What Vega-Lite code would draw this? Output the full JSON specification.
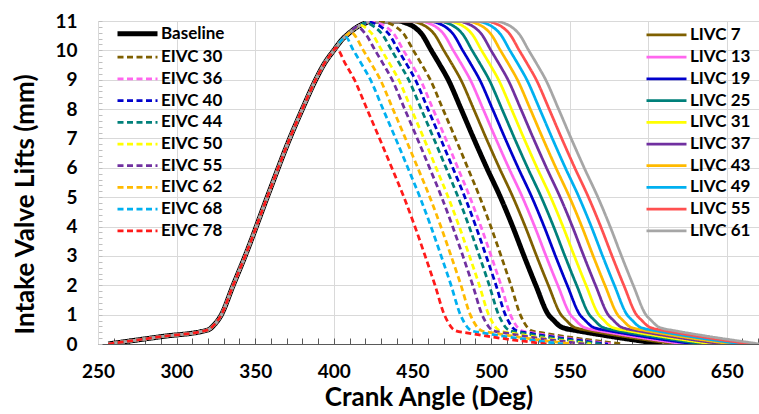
{
"$schema": "https://vega.github.io/schema/vega-lite/v6.json",
"width": 661, "height": 323,
"autosize": {"type": "none"},
"padding": {"left": 98, "top": 21, "right": 0, "bottom": 70},
"config": {"view": {"stroke": null}, "font": "Lato"},
"data": {"values": [
{"s":"Baseline","x":256.5,"y":0},{"s":"Baseline","x":290,"y":0.25},{"s":"Baseline","x":320,"y":0.48},{"s":"Baseline","x":324,"y":0.66},{"s":"Baseline","x":328,"y":0.95},{"s":"Baseline","x":336,"y":2},{"s":"Baseline","x":344,"y":3.05},{"s":"Baseline","x":358,"y":5.05},{"s":"Baseline","x":372,"y":7},{"s":"Baseline","x":380,"y":8},{"s":"Baseline","x":388.5,"y":9},{"s":"Baseline","x":394,"y":9.55},{"s":"Baseline","x":400,"y":10},{"s":"Baseline","x":405,"y":10.35},{"s":"Baseline","x":410,"y":10.6},{"s":"Baseline","x":415,"y":10.8},{"s":"Baseline","x":420,"y":10.93},{"s":"Baseline","x":424,"y":11},
{"s":"Baseline","x":441,"y":11},{"s":"Baseline","x":446,"y":10.93},{"s":"Baseline","x":451,"y":10.8},{"s":"Baseline","x":456,"y":10.55},{"s":"Baseline","x":462,"y":10},{"s":"Baseline","x":467,"y":9.55},{"s":"Baseline","x":472.8,"y":9},{"s":"Baseline","x":481,"y":8},{"s":"Baseline","x":489,"y":7},{"s":"Baseline","x":497.3,"y":6},{"s":"Baseline","x":506,"y":5},{"s":"Baseline","x":513.8,"y":4},{"s":"Baseline","x":521,"y":3},{"s":"Baseline","x":528.5,"y":2},{"s":"Baseline","x":536.5,"y":1},{"s":"Baseline","x":540,"y":0.8},{"s":"Baseline","x":544,"y":0.6},{"s":"Baseline","x":548,"y":0.52},{"s":"Baseline","x":553,"y":0.47},{"s":"Baseline","x":609,"y":0},

{"s":"LIVC 7","x":256.5,"y":0},{"s":"LIVC 7","x":290,"y":0.25},{"s":"LIVC 7","x":320,"y":0.48},{"s":"LIVC 7","x":324,"y":0.66},{"s":"LIVC 7","x":328,"y":0.95},{"s":"LIVC 7","x":336,"y":2},{"s":"LIVC 7","x":344,"y":3.05},{"s":"LIVC 7","x":358,"y":5.05},{"s":"LIVC 7","x":372,"y":7},{"s":"LIVC 7","x":380,"y":8},{"s":"LIVC 7","x":388.5,"y":9},{"s":"LIVC 7","x":394,"y":9.55},{"s":"LIVC 7","x":400,"y":10},{"s":"LIVC 7","x":405,"y":10.35},{"s":"LIVC 7","x":410,"y":10.6},{"s":"LIVC 7","x":415,"y":10.8},{"s":"LIVC 7","x":420,"y":10.93},{"s":"LIVC 7","x":424,"y":11},
{"s":"LIVC 7","x":449,"y":11},{"s":"LIVC 7","x":454,"y":10.93},{"s":"LIVC 7","x":459,"y":10.8},{"s":"LIVC 7","x":464,"y":10.55},{"s":"LIVC 7","x":470,"y":10},{"s":"LIVC 7","x":475,"y":9.55},{"s":"LIVC 7","x":480.8,"y":9},{"s":"LIVC 7","x":489,"y":8},{"s":"LIVC 7","x":497,"y":7},{"s":"LIVC 7","x":505.3,"y":6},{"s":"LIVC 7","x":514,"y":5},{"s":"LIVC 7","x":521.8,"y":4},{"s":"LIVC 7","x":529,"y":3},{"s":"LIVC 7","x":536.5,"y":2},{"s":"LIVC 7","x":544.5,"y":1},{"s":"LIVC 7","x":548,"y":0.8},{"s":"LIVC 7","x":552,"y":0.6},{"s":"LIVC 7","x":556,"y":0.52},{"s":"LIVC 7","x":561,"y":0.47},{"s":"LIVC 7","x":617,"y":0},

{"s":"LIVC 13","x":256.5,"y":0},{"s":"LIVC 13","x":290,"y":0.25},{"s":"LIVC 13","x":320,"y":0.48},{"s":"LIVC 13","x":324,"y":0.66},{"s":"LIVC 13","x":328,"y":0.95},{"s":"LIVC 13","x":336,"y":2},{"s":"LIVC 13","x":344,"y":3.05},{"s":"LIVC 13","x":358,"y":5.05},{"s":"LIVC 13","x":372,"y":7},{"s":"LIVC 13","x":380,"y":8},{"s":"LIVC 13","x":388.5,"y":9},{"s":"LIVC 13","x":394,"y":9.55},{"s":"LIVC 13","x":400,"y":10},{"s":"LIVC 13","x":405,"y":10.35},{"s":"LIVC 13","x":410,"y":10.6},{"s":"LIVC 13","x":415,"y":10.8},{"s":"LIVC 13","x":420,"y":10.93},{"s":"LIVC 13","x":424,"y":11},
{"s":"LIVC 13","x":455,"y":11},{"s":"LIVC 13","x":460,"y":10.93},{"s":"LIVC 13","x":465,"y":10.8},{"s":"LIVC 13","x":470,"y":10.55},{"s":"LIVC 13","x":476,"y":10},{"s":"LIVC 13","x":481,"y":9.55},{"s":"LIVC 13","x":486.8,"y":9},{"s":"LIVC 13","x":495,"y":8},{"s":"LIVC 13","x":503,"y":7},{"s":"LIVC 13","x":511.3,"y":6},{"s":"LIVC 13","x":520,"y":5},{"s":"LIVC 13","x":527.8,"y":4},{"s":"LIVC 13","x":535,"y":3},{"s":"LIVC 13","x":542.5,"y":2},{"s":"LIVC 13","x":550.5,"y":1},{"s":"LIVC 13","x":554,"y":0.8},{"s":"LIVC 13","x":558,"y":0.6},{"s":"LIVC 13","x":562,"y":0.52},{"s":"LIVC 13","x":567,"y":0.47},{"s":"LIVC 13","x":623,"y":0},

{"s":"LIVC 19","x":256.5,"y":0},{"s":"LIVC 19","x":290,"y":0.25},{"s":"LIVC 19","x":320,"y":0.48},{"s":"LIVC 19","x":324,"y":0.66},{"s":"LIVC 19","x":328,"y":0.95},{"s":"LIVC 19","x":336,"y":2},{"s":"LIVC 19","x":344,"y":3.05},{"s":"LIVC 19","x":358,"y":5.05},{"s":"LIVC 19","x":372,"y":7},{"s":"LIVC 19","x":380,"y":8},{"s":"LIVC 19","x":388.5,"y":9},{"s":"LIVC 19","x":394,"y":9.55},{"s":"LIVC 19","x":400,"y":10},{"s":"LIVC 19","x":405,"y":10.35},{"s":"LIVC 19","x":410,"y":10.6},{"s":"LIVC 19","x":415,"y":10.8},{"s":"LIVC 19","x":420,"y":10.93},{"s":"LIVC 19","x":424,"y":11},
{"s":"LIVC 19","x":461,"y":11},{"s":"LIVC 19","x":466,"y":10.93},{"s":"LIVC 19","x":471,"y":10.8},{"s":"LIVC 19","x":476,"y":10.55},{"s":"LIVC 19","x":482,"y":10},{"s":"LIVC 19","x":487,"y":9.55},{"s":"LIVC 19","x":492.8,"y":9},{"s":"LIVC 19","x":501,"y":8},{"s":"LIVC 19","x":509,"y":7},{"s":"LIVC 19","x":517.3,"y":6},{"s":"LIVC 19","x":526,"y":5},{"s":"LIVC 19","x":533.8,"y":4},{"s":"LIVC 19","x":541,"y":3},{"s":"LIVC 19","x":548.5,"y":2},{"s":"LIVC 19","x":556.5,"y":1},{"s":"LIVC 19","x":560,"y":0.8},{"s":"LIVC 19","x":564,"y":0.6},{"s":"LIVC 19","x":568,"y":0.52},{"s":"LIVC 19","x":573,"y":0.47},{"s":"LIVC 19","x":629,"y":0},

{"s":"LIVC 25","x":256.5,"y":0},{"s":"LIVC 25","x":290,"y":0.25},{"s":"LIVC 25","x":320,"y":0.48},{"s":"LIVC 25","x":324,"y":0.66},{"s":"LIVC 25","x":328,"y":0.95},{"s":"LIVC 25","x":336,"y":2},{"s":"LIVC 25","x":344,"y":3.05},{"s":"LIVC 25","x":358,"y":5.05},{"s":"LIVC 25","x":372,"y":7},{"s":"LIVC 25","x":380,"y":8},{"s":"LIVC 25","x":388.5,"y":9},{"s":"LIVC 25","x":394,"y":9.55},{"s":"LIVC 25","x":400,"y":10},{"s":"LIVC 25","x":405,"y":10.35},{"s":"LIVC 25","x":410,"y":10.6},{"s":"LIVC 25","x":415,"y":10.8},{"s":"LIVC 25","x":420,"y":10.93},{"s":"LIVC 25","x":424,"y":11},
{"s":"LIVC 25","x":467,"y":11},{"s":"LIVC 25","x":472,"y":10.93},{"s":"LIVC 25","x":477,"y":10.8},{"s":"LIVC 25","x":482,"y":10.55},{"s":"LIVC 25","x":488,"y":10},{"s":"LIVC 25","x":493,"y":9.55},{"s":"LIVC 25","x":498.8,"y":9},{"s":"LIVC 25","x":507,"y":8},{"s":"LIVC 25","x":515,"y":7},{"s":"LIVC 25","x":523.3,"y":6},{"s":"LIVC 25","x":532,"y":5},{"s":"LIVC 25","x":539.8,"y":4},{"s":"LIVC 25","x":547,"y":3},{"s":"LIVC 25","x":554.5,"y":2},{"s":"LIVC 25","x":562.5,"y":1},{"s":"LIVC 25","x":566,"y":0.8},{"s":"LIVC 25","x":570,"y":0.6},{"s":"LIVC 25","x":574,"y":0.52},{"s":"LIVC 25","x":579,"y":0.47},{"s":"LIVC 25","x":635,"y":0},

{"s":"LIVC 31","x":256.5,"y":0},{"s":"LIVC 31","x":290,"y":0.25},{"s":"LIVC 31","x":320,"y":0.48},{"s":"LIVC 31","x":324,"y":0.66},{"s":"LIVC 31","x":328,"y":0.95},{"s":"LIVC 31","x":336,"y":2},{"s":"LIVC 31","x":344,"y":3.05},{"s":"LIVC 31","x":358,"y":5.05},{"s":"LIVC 31","x":372,"y":7},{"s":"LIVC 31","x":380,"y":8},{"s":"LIVC 31","x":388.5,"y":9},{"s":"LIVC 31","x":394,"y":9.55},{"s":"LIVC 31","x":400,"y":10},{"s":"LIVC 31","x":405,"y":10.35},{"s":"LIVC 31","x":410,"y":10.6},{"s":"LIVC 31","x":415,"y":10.8},{"s":"LIVC 31","x":420,"y":10.93},{"s":"LIVC 31","x":424,"y":11},
{"s":"LIVC 31","x":473,"y":11},{"s":"LIVC 31","x":478,"y":10.93},{"s":"LIVC 31","x":483,"y":10.8},{"s":"LIVC 31","x":488,"y":10.55},{"s":"LIVC 31","x":494,"y":10},{"s":"LIVC 31","x":499,"y":9.55},{"s":"LIVC 31","x":504.8,"y":9},{"s":"LIVC 31","x":513,"y":8},{"s":"LIVC 31","x":521,"y":7},{"s":"LIVC 31","x":529.3,"y":6},{"s":"LIVC 31","x":538,"y":5},{"s":"LIVC 31","x":545.8,"y":4},{"s":"LIVC 31","x":553,"y":3},{"s":"LIVC 31","x":560.5,"y":2},{"s":"LIVC 31","x":568.5,"y":1},{"s":"LIVC 31","x":572,"y":0.8},{"s":"LIVC 31","x":576,"y":0.6},{"s":"LIVC 31","x":580,"y":0.52},{"s":"LIVC 31","x":585,"y":0.47},{"s":"LIVC 31","x":641,"y":0},

{"s":"LIVC 37","x":256.5,"y":0},{"s":"LIVC 37","x":290,"y":0.25},{"s":"LIVC 37","x":320,"y":0.48},{"s":"LIVC 37","x":324,"y":0.66},{"s":"LIVC 37","x":328,"y":0.95},{"s":"LIVC 37","x":336,"y":2},{"s":"LIVC 37","x":344,"y":3.05},{"s":"LIVC 37","x":358,"y":5.05},{"s":"LIVC 37","x":372,"y":7},{"s":"LIVC 37","x":380,"y":8},{"s":"LIVC 37","x":388.5,"y":9},{"s":"LIVC 37","x":394,"y":9.55},{"s":"LIVC 37","x":400,"y":10},{"s":"LIVC 37","x":405,"y":10.35},{"s":"LIVC 37","x":410,"y":10.6},{"s":"LIVC 37","x":415,"y":10.8},{"s":"LIVC 37","x":420,"y":10.93},{"s":"LIVC 37","x":424,"y":11},
{"s":"LIVC 37","x":479,"y":11},{"s":"LIVC 37","x":484,"y":10.93},{"s":"LIVC 37","x":489,"y":10.8},{"s":"LIVC 37","x":494,"y":10.55},{"s":"LIVC 37","x":500,"y":10},{"s":"LIVC 37","x":505,"y":9.55},{"s":"LIVC 37","x":510.8,"y":9},{"s":"LIVC 37","x":519,"y":8},{"s":"LIVC 37","x":527,"y":7},{"s":"LIVC 37","x":535.3,"y":6},{"s":"LIVC 37","x":544,"y":5},{"s":"LIVC 37","x":551.8,"y":4},{"s":"LIVC 37","x":559,"y":3},{"s":"LIVC 37","x":566.5,"y":2},{"s":"LIVC 37","x":574.5,"y":1},{"s":"LIVC 37","x":578,"y":0.8},{"s":"LIVC 37","x":582,"y":0.6},{"s":"LIVC 37","x":586,"y":0.52},{"s":"LIVC 37","x":591,"y":0.47},{"s":"LIVC 37","x":647,"y":0},

{"s":"LIVC 43","x":256.5,"y":0},{"s":"LIVC 43","x":290,"y":0.25},{"s":"LIVC 43","x":320,"y":0.48},{"s":"LIVC 43","x":324,"y":0.66},{"s":"LIVC 43","x":328,"y":0.95},{"s":"LIVC 43","x":336,"y":2},{"s":"LIVC 43","x":344,"y":3.05},{"s":"LIVC 43","x":358,"y":5.05},{"s":"LIVC 43","x":372,"y":7},{"s":"LIVC 43","x":380,"y":8},{"s":"LIVC 43","x":388.5,"y":9},{"s":"LIVC 43","x":394,"y":9.55},{"s":"LIVC 43","x":400,"y":10},{"s":"LIVC 43","x":405,"y":10.35},{"s":"LIVC 43","x":410,"y":10.6},{"s":"LIVC 43","x":415,"y":10.8},{"s":"LIVC 43","x":420,"y":10.93},{"s":"LIVC 43","x":424,"y":11},
{"s":"LIVC 43","x":485,"y":11},{"s":"LIVC 43","x":490,"y":10.93},{"s":"LIVC 43","x":495,"y":10.8},{"s":"LIVC 43","x":500,"y":10.55},{"s":"LIVC 43","x":506,"y":10},{"s":"LIVC 43","x":511,"y":9.55},{"s":"LIVC 43","x":516.8,"y":9},{"s":"LIVC 43","x":525,"y":8},{"s":"LIVC 43","x":533,"y":7},{"s":"LIVC 43","x":541.3,"y":6},{"s":"LIVC 43","x":550,"y":5},{"s":"LIVC 43","x":557.8,"y":4},{"s":"LIVC 43","x":565,"y":3},{"s":"LIVC 43","x":572.5,"y":2},{"s":"LIVC 43","x":580.5,"y":1},{"s":"LIVC 43","x":584,"y":0.8},{"s":"LIVC 43","x":588,"y":0.6},{"s":"LIVC 43","x":592,"y":0.52},{"s":"LIVC 43","x":597,"y":0.47},{"s":"LIVC 43","x":653,"y":0},

{"s":"LIVC 49","x":256.5,"y":0},{"s":"LIVC 49","x":290,"y":0.25},{"s":"LIVC 49","x":320,"y":0.48},{"s":"LIVC 49","x":324,"y":0.66},{"s":"LIVC 49","x":328,"y":0.95},{"s":"LIVC 49","x":336,"y":2},{"s":"LIVC 49","x":344,"y":3.05},{"s":"LIVC 49","x":358,"y":5.05},{"s":"LIVC 49","x":372,"y":7},{"s":"LIVC 49","x":380,"y":8},{"s":"LIVC 49","x":388.5,"y":9},{"s":"LIVC 49","x":394,"y":9.55},{"s":"LIVC 49","x":400,"y":10},{"s":"LIVC 49","x":405,"y":10.35},{"s":"LIVC 49","x":410,"y":10.6},{"s":"LIVC 49","x":415,"y":10.8},{"s":"LIVC 49","x":420,"y":10.93},{"s":"LIVC 49","x":424,"y":11},
{"s":"LIVC 49","x":491,"y":11},{"s":"LIVC 49","x":496,"y":10.93},{"s":"LIVC 49","x":501,"y":10.8},{"s":"LIVC 49","x":506,"y":10.55},{"s":"LIVC 49","x":512,"y":10},{"s":"LIVC 49","x":517,"y":9.55},{"s":"LIVC 49","x":522.8,"y":9},{"s":"LIVC 49","x":531,"y":8},{"s":"LIVC 49","x":539,"y":7},{"s":"LIVC 49","x":547.3,"y":6},{"s":"LIVC 49","x":556,"y":5},{"s":"LIVC 49","x":563.8,"y":4},{"s":"LIVC 49","x":571,"y":3},{"s":"LIVC 49","x":578.5,"y":2},{"s":"LIVC 49","x":586.5,"y":1},{"s":"LIVC 49","x":590,"y":0.8},{"s":"LIVC 49","x":594,"y":0.6},{"s":"LIVC 49","x":598,"y":0.52},{"s":"LIVC 49","x":603,"y":0.47},{"s":"LIVC 49","x":659,"y":0},

{"s":"LIVC 55","x":256.5,"y":0},{"s":"LIVC 55","x":290,"y":0.25},{"s":"LIVC 55","x":320,"y":0.48},{"s":"LIVC 55","x":324,"y":0.66},{"s":"LIVC 55","x":328,"y":0.95},{"s":"LIVC 55","x":336,"y":2},{"s":"LIVC 55","x":344,"y":3.05},{"s":"LIVC 55","x":358,"y":5.05},{"s":"LIVC 55","x":372,"y":7},{"s":"LIVC 55","x":380,"y":8},{"s":"LIVC 55","x":388.5,"y":9},{"s":"LIVC 55","x":394,"y":9.55},{"s":"LIVC 55","x":400,"y":10},{"s":"LIVC 55","x":405,"y":10.35},{"s":"LIVC 55","x":410,"y":10.6},{"s":"LIVC 55","x":415,"y":10.8},{"s":"LIVC 55","x":420,"y":10.93},{"s":"LIVC 55","x":424,"y":11},
{"s":"LIVC 55","x":497,"y":11},{"s":"LIVC 55","x":502,"y":10.93},{"s":"LIVC 55","x":507,"y":10.8},{"s":"LIVC 55","x":512,"y":10.55},{"s":"LIVC 55","x":518,"y":10},{"s":"LIVC 55","x":523,"y":9.55},{"s":"LIVC 55","x":528.8,"y":9},{"s":"LIVC 55","x":537,"y":8},{"s":"LIVC 55","x":545,"y":7},{"s":"LIVC 55","x":553.3,"y":6},{"s":"LIVC 55","x":562,"y":5},{"s":"LIVC 55","x":569.8,"y":4},{"s":"LIVC 55","x":577,"y":3},{"s":"LIVC 55","x":584.5,"y":2},{"s":"LIVC 55","x":592.5,"y":1},{"s":"LIVC 55","x":596,"y":0.8},{"s":"LIVC 55","x":600,"y":0.6},{"s":"LIVC 55","x":604,"y":0.52},{"s":"LIVC 55","x":609,"y":0.47},{"s":"LIVC 55","x":665,"y":0},

{"s":"LIVC 61","x":256.5,"y":0},{"s":"LIVC 61","x":290,"y":0.25},{"s":"LIVC 61","x":320,"y":0.48},{"s":"LIVC 61","x":324,"y":0.66},{"s":"LIVC 61","x":328,"y":0.95},{"s":"LIVC 61","x":336,"y":2},{"s":"LIVC 61","x":344,"y":3.05},{"s":"LIVC 61","x":358,"y":5.05},{"s":"LIVC 61","x":372,"y":7},{"s":"LIVC 61","x":380,"y":8},{"s":"LIVC 61","x":388.5,"y":9},{"s":"LIVC 61","x":394,"y":9.55},{"s":"LIVC 61","x":400,"y":10},{"s":"LIVC 61","x":405,"y":10.35},{"s":"LIVC 61","x":410,"y":10.6},{"s":"LIVC 61","x":415,"y":10.8},{"s":"LIVC 61","x":420,"y":10.93},{"s":"LIVC 61","x":424,"y":11},
{"s":"LIVC 61","x":503,"y":11},{"s":"LIVC 61","x":508,"y":10.93},{"s":"LIVC 61","x":513,"y":10.8},{"s":"LIVC 61","x":518,"y":10.55},{"s":"LIVC 61","x":524,"y":10},{"s":"LIVC 61","x":529,"y":9.55},{"s":"LIVC 61","x":534.8,"y":9},{"s":"LIVC 61","x":543,"y":8},{"s":"LIVC 61","x":551,"y":7},{"s":"LIVC 61","x":559.3,"y":6},{"s":"LIVC 61","x":568,"y":5},{"s":"LIVC 61","x":575.8,"y":4},{"s":"LIVC 61","x":583,"y":3},{"s":"LIVC 61","x":590.5,"y":2},{"s":"LIVC 61","x":598.5,"y":1},{"s":"LIVC 61","x":602,"y":0.8},{"s":"LIVC 61","x":606,"y":0.6},{"s":"LIVC 61","x":610,"y":0.52},{"s":"LIVC 61","x":615,"y":0.47},{"s":"LIVC 61","x":671,"y":0},

{"s":"EIVC 30","x":256.5,"y":0},{"s":"EIVC 30","x":290,"y":0.25},{"s":"EIVC 30","x":320,"y":0.48},{"s":"EIVC 30","x":324,"y":0.66},{"s":"EIVC 30","x":328,"y":0.95},{"s":"EIVC 30","x":336,"y":2},{"s":"EIVC 30","x":344,"y":3.05},{"s":"EIVC 30","x":358,"y":5.05},{"s":"EIVC 30","x":372,"y":7},{"s":"EIVC 30","x":380,"y":8},{"s":"EIVC 30","x":388.5,"y":9},{"s":"EIVC 30","x":394,"y":9.55},{"s":"EIVC 30","x":400,"y":10},{"s":"EIVC 30","x":405,"y":10.35},{"s":"EIVC 30","x":410,"y":10.6},{"s":"EIVC 30","x":415,"y":10.8},{"s":"EIVC 30","x":420,"y":10.93},{"s":"EIVC 30","x":424,"y":11},
{"s":"EIVC 30","x":429.6,"y":11},{"s":"EIVC 30","x":434.6,"y":10.93},{"s":"EIVC 30","x":439.6,"y":10.8},{"s":"EIVC 30","x":444.6,"y":10.55},{"s":"EIVC 30","x":450.6,"y":10},{"s":"EIVC 30","x":455.6,"y":9.55},{"s":"EIVC 30","x":461.4,"y":9},{"s":"EIVC 30","x":469.4,"y":8},{"s":"EIVC 30","x":477.4,"y":7},{"s":"EIVC 30","x":485.2,"y":6},{"s":"EIVC 30","x":492.9,"y":5},{"s":"EIVC 30","x":499.9,"y":4},{"s":"EIVC 30","x":506.4,"y":3},{"s":"EIVC 30","x":512.7,"y":2},{"s":"EIVC 30","x":518.6,"y":1},{"s":"EIVC 30","x":520.9,"y":0.75},{"s":"EIVC 30","x":523.4,"y":0.55},{"s":"EIVC 30","x":525.9,"y":0.45},{"s":"EIVC 30","x":532.9,"y":0.38},{"s":"EIVC 30","x":583.9,"y":0},

{"s":"EIVC 36","x":256.5,"y":0},{"s":"EIVC 36","x":290,"y":0.25},{"s":"EIVC 36","x":320,"y":0.48},{"s":"EIVC 36","x":324,"y":0.66},{"s":"EIVC 36","x":328,"y":0.95},{"s":"EIVC 36","x":336,"y":2},{"s":"EIVC 36","x":344,"y":3.05},{"s":"EIVC 36","x":358,"y":5.05},{"s":"EIVC 36","x":372,"y":7},{"s":"EIVC 36","x":380,"y":8},{"s":"EIVC 36","x":388.5,"y":9},{"s":"EIVC 36","x":394,"y":9.55},{"s":"EIVC 36","x":400,"y":10},{"s":"EIVC 36","x":405,"y":10.35},{"s":"EIVC 36","x":410,"y":10.6},{"s":"EIVC 36","x":415,"y":10.8},{"s":"EIVC 36","x":420,"y":10.93},
{"s":"EIVC 36","x":422.5,"y":10.985},{"s":"EIVC 36","x":428.3,"y":10.93},{"s":"EIVC 36","x":433.3,"y":10.8},{"s":"EIVC 36","x":438.3,"y":10.55},{"s":"EIVC 36","x":444.3,"y":10},{"s":"EIVC 36","x":449.3,"y":9.55},{"s":"EIVC 36","x":455.1,"y":9},{"s":"EIVC 36","x":463.1,"y":8},{"s":"EIVC 36","x":471.1,"y":7},{"s":"EIVC 36","x":478.9,"y":6},{"s":"EIVC 36","x":486.6,"y":5},{"s":"EIVC 36","x":493.6,"y":4},{"s":"EIVC 36","x":500.1,"y":3},{"s":"EIVC 36","x":506.4,"y":2},{"s":"EIVC 36","x":512.3,"y":1},{"s":"EIVC 36","x":514.6,"y":0.75},{"s":"EIVC 36","x":517.1,"y":0.55},{"s":"EIVC 36","x":519.6,"y":0.45},{"s":"EIVC 36","x":526.6,"y":0.38},{"s":"EIVC 36","x":577.6,"y":0},

{"s":"EIVC 40","x":256.5,"y":0},{"s":"EIVC 40","x":290,"y":0.25},{"s":"EIVC 40","x":320,"y":0.48},{"s":"EIVC 40","x":324,"y":0.66},{"s":"EIVC 40","x":328,"y":0.95},{"s":"EIVC 40","x":336,"y":2},{"s":"EIVC 40","x":344,"y":3.05},{"s":"EIVC 40","x":358,"y":5.05},{"s":"EIVC 40","x":372,"y":7},{"s":"EIVC 40","x":380,"y":8},{"s":"EIVC 40","x":388.5,"y":9},{"s":"EIVC 40","x":394,"y":9.55},{"s":"EIVC 40","x":400,"y":10},{"s":"EIVC 40","x":405,"y":10.35},{"s":"EIVC 40","x":410,"y":10.6},{"s":"EIVC 40","x":415,"y":10.8},{"s":"EIVC 40","x":420,"y":10.93},
{"s":"EIVC 40","x":422.4,"y":10.965},{"s":"EIVC 40","x":425.1,"y":10.93},{"s":"EIVC 40","x":430.1,"y":10.8},{"s":"EIVC 40","x":435.1,"y":10.55},{"s":"EIVC 40","x":441.1,"y":10},{"s":"EIVC 40","x":446.1,"y":9.55},{"s":"EIVC 40","x":451.9,"y":9},{"s":"EIVC 40","x":459.9,"y":8},{"s":"EIVC 40","x":467.9,"y":7},{"s":"EIVC 40","x":475.7,"y":6},{"s":"EIVC 40","x":483.4,"y":5},{"s":"EIVC 40","x":490.4,"y":4},{"s":"EIVC 40","x":496.9,"y":3},{"s":"EIVC 40","x":503.2,"y":2},{"s":"EIVC 40","x":509.1,"y":1},{"s":"EIVC 40","x":511.4,"y":0.75},{"s":"EIVC 40","x":513.9,"y":0.55},{"s":"EIVC 40","x":516.4,"y":0.45},{"s":"EIVC 40","x":523.4,"y":0.38},{"s":"EIVC 40","x":574.4,"y":0},

{"s":"EIVC 44","x":256.5,"y":0},{"s":"EIVC 44","x":290,"y":0.25},{"s":"EIVC 44","x":320,"y":0.48},{"s":"EIVC 44","x":324,"y":0.66},{"s":"EIVC 44","x":328,"y":0.95},{"s":"EIVC 44","x":336,"y":2},{"s":"EIVC 44","x":344,"y":3.05},{"s":"EIVC 44","x":358,"y":5.05},{"s":"EIVC 44","x":372,"y":7},{"s":"EIVC 44","x":380,"y":8},{"s":"EIVC 44","x":388.5,"y":9},{"s":"EIVC 44","x":394,"y":9.55},{"s":"EIVC 44","x":400,"y":10},{"s":"EIVC 44","x":405,"y":10.35},{"s":"EIVC 44","x":410,"y":10.6},{"s":"EIVC 44","x":415,"y":10.8},
{"s":"EIVC 44","x":420.6,"y":10.94},{"s":"EIVC 44","x":425.8,"y":10.8},{"s":"EIVC 44","x":430.8,"y":10.55},{"s":"EIVC 44","x":436.8,"y":10},{"s":"EIVC 44","x":441.8,"y":9.55},{"s":"EIVC 44","x":447.6,"y":9},{"s":"EIVC 44","x":455.6,"y":8},{"s":"EIVC 44","x":463.6,"y":7},{"s":"EIVC 44","x":471.4,"y":6},{"s":"EIVC 44","x":479.1,"y":5},{"s":"EIVC 44","x":486.1,"y":4},{"s":"EIVC 44","x":492.6,"y":3},{"s":"EIVC 44","x":498.9,"y":2},{"s":"EIVC 44","x":504.8,"y":1},{"s":"EIVC 44","x":507.1,"y":0.75},{"s":"EIVC 44","x":509.6,"y":0.55},{"s":"EIVC 44","x":512.1,"y":0.45},{"s":"EIVC 44","x":519.1,"y":0.38},{"s":"EIVC 44","x":570.1,"y":0},

{"s":"EIVC 50","x":256.5,"y":0},{"s":"EIVC 50","x":290,"y":0.25},{"s":"EIVC 50","x":320,"y":0.48},{"s":"EIVC 50","x":324,"y":0.66},{"s":"EIVC 50","x":328,"y":0.95},{"s":"EIVC 50","x":336,"y":2},{"s":"EIVC 50","x":344,"y":3.05},{"s":"EIVC 50","x":358,"y":5.05},{"s":"EIVC 50","x":372,"y":7},{"s":"EIVC 50","x":380,"y":8},{"s":"EIVC 50","x":388.5,"y":9},{"s":"EIVC 50","x":394,"y":9.55},{"s":"EIVC 50","x":400,"y":10},{"s":"EIVC 50","x":405,"y":10.35},{"s":"EIVC 50","x":410,"y":10.6},{"s":"EIVC 50","x":415,"y":10.8},
{"s":"EIVC 50","x":417.2,"y":10.86},{"s":"EIVC 50","x":419.5,"y":10.8},{"s":"EIVC 50","x":424.5,"y":10.55},{"s":"EIVC 50","x":430.5,"y":10},{"s":"EIVC 50","x":435.5,"y":9.55},{"s":"EIVC 50","x":441.3,"y":9},{"s":"EIVC 50","x":449.3,"y":8},{"s":"EIVC 50","x":457.3,"y":7},{"s":"EIVC 50","x":465.1,"y":6},{"s":"EIVC 50","x":472.8,"y":5},{"s":"EIVC 50","x":479.8,"y":4},{"s":"EIVC 50","x":486.3,"y":3},{"s":"EIVC 50","x":492.6,"y":2},{"s":"EIVC 50","x":498.5,"y":1},{"s":"EIVC 50","x":500.8,"y":0.75},{"s":"EIVC 50","x":503.3,"y":0.55},{"s":"EIVC 50","x":505.8,"y":0.45},{"s":"EIVC 50","x":512.8,"y":0.38},{"s":"EIVC 50","x":563.8,"y":0},

{"s":"EIVC 55","x":256.5,"y":0},{"s":"EIVC 55","x":290,"y":0.25},{"s":"EIVC 55","x":320,"y":0.48},{"s":"EIVC 55","x":324,"y":0.66},{"s":"EIVC 55","x":328,"y":0.95},{"s":"EIVC 55","x":336,"y":2},{"s":"EIVC 55","x":344,"y":3.05},{"s":"EIVC 55","x":358,"y":5.05},{"s":"EIVC 55","x":372,"y":7},{"s":"EIVC 55","x":380,"y":8},{"s":"EIVC 55","x":388.5,"y":9},{"s":"EIVC 55","x":394,"y":9.55},{"s":"EIVC 55","x":400,"y":10},{"s":"EIVC 55","x":405,"y":10.35},{"s":"EIVC 55","x":410,"y":10.6},
{"s":"EIVC 55","x":414.9,"y":10.8},{"s":"EIVC 55","x":420.3,"y":10.55},{"s":"EIVC 55","x":426.3,"y":10},{"s":"EIVC 55","x":431.3,"y":9.55},{"s":"EIVC 55","x":437.1,"y":9},{"s":"EIVC 55","x":445.1,"y":8},{"s":"EIVC 55","x":453.1,"y":7},{"s":"EIVC 55","x":460.9,"y":6},{"s":"EIVC 55","x":468.6,"y":5},{"s":"EIVC 55","x":475.6,"y":4},{"s":"EIVC 55","x":482.1,"y":3},{"s":"EIVC 55","x":488.4,"y":2},{"s":"EIVC 55","x":494.3,"y":1},{"s":"EIVC 55","x":496.6,"y":0.75},{"s":"EIVC 55","x":499.1,"y":0.55},{"s":"EIVC 55","x":501.6,"y":0.45},{"s":"EIVC 55","x":508.6,"y":0.38},{"s":"EIVC 55","x":559.6,"y":0},

{"s":"EIVC 62","x":256.5,"y":0},{"s":"EIVC 62","x":290,"y":0.25},{"s":"EIVC 62","x":320,"y":0.48},{"s":"EIVC 62","x":324,"y":0.66},{"s":"EIVC 62","x":328,"y":0.95},{"s":"EIVC 62","x":336,"y":2},{"s":"EIVC 62","x":344,"y":3.05},{"s":"EIVC 62","x":358,"y":5.05},{"s":"EIVC 62","x":372,"y":7},{"s":"EIVC 62","x":380,"y":8},{"s":"EIVC 62","x":388.5,"y":9},{"s":"EIVC 62","x":394,"y":9.55},{"s":"EIVC 62","x":400,"y":10},{"s":"EIVC 62","x":405,"y":10.35},{"s":"EIVC 62","x":410,"y":10.6},
{"s":"EIVC 62","x":411,"y":10.64},{"s":"EIVC 62","x":412.8,"y":10.55},{"s":"EIVC 62","x":418.8,"y":10},{"s":"EIVC 62","x":423.8,"y":9.55},{"s":"EIVC 62","x":429.6,"y":9},{"s":"EIVC 62","x":437.6,"y":8},{"s":"EIVC 62","x":445.6,"y":7},{"s":"EIVC 62","x":453.4,"y":6},{"s":"EIVC 62","x":461.1,"y":5},{"s":"EIVC 62","x":468.1,"y":4},{"s":"EIVC 62","x":474.6,"y":3},{"s":"EIVC 62","x":480.9,"y":2},{"s":"EIVC 62","x":486.8,"y":1},{"s":"EIVC 62","x":489.1,"y":0.75},{"s":"EIVC 62","x":491.6,"y":0.55},{"s":"EIVC 62","x":494.1,"y":0.45},{"s":"EIVC 62","x":501.1,"y":0.38},{"s":"EIVC 62","x":552.1,"y":0},

{"s":"EIVC 68","x":256.5,"y":0},{"s":"EIVC 68","x":290,"y":0.25},{"s":"EIVC 68","x":320,"y":0.48},{"s":"EIVC 68","x":324,"y":0.66},{"s":"EIVC 68","x":328,"y":0.95},{"s":"EIVC 68","x":336,"y":2},{"s":"EIVC 68","x":344,"y":3.05},{"s":"EIVC 68","x":358,"y":5.05},{"s":"EIVC 68","x":372,"y":7},{"s":"EIVC 68","x":380,"y":8},{"s":"EIVC 68","x":388.5,"y":9},{"s":"EIVC 68","x":394,"y":9.55},{"s":"EIVC 68","x":400,"y":10},{"s":"EIVC 68","x":405,"y":10.35},
{"s":"EIVC 68","x":407.3,"y":10.465},{"s":"EIVC 68","x":412.5,"y":10},{"s":"EIVC 68","x":417.5,"y":9.55},{"s":"EIVC 68","x":423.3,"y":9},{"s":"EIVC 68","x":431.3,"y":8},{"s":"EIVC 68","x":439.3,"y":7},{"s":"EIVC 68","x":447.1,"y":6},{"s":"EIVC 68","x":454.8,"y":5},{"s":"EIVC 68","x":461.8,"y":4},{"s":"EIVC 68","x":468.3,"y":3},{"s":"EIVC 68","x":474.6,"y":2},{"s":"EIVC 68","x":480.5,"y":1},{"s":"EIVC 68","x":482.8,"y":0.75},{"s":"EIVC 68","x":485.3,"y":0.55},{"s":"EIVC 68","x":487.8,"y":0.45},{"s":"EIVC 68","x":494.8,"y":0.38},{"s":"EIVC 68","x":545.8,"y":0},

{"s":"EIVC 78","x":256.5,"y":0},{"s":"EIVC 78","x":290,"y":0.25},{"s":"EIVC 78","x":320,"y":0.48},{"s":"EIVC 78","x":324,"y":0.66},{"s":"EIVC 78","x":328,"y":0.95},{"s":"EIVC 78","x":336,"y":2},{"s":"EIVC 78","x":344,"y":3.05},{"s":"EIVC 78","x":358,"y":5.05},{"s":"EIVC 78","x":372,"y":7},{"s":"EIVC 78","x":380,"y":8},{"s":"EIVC 78","x":388.5,"y":9},{"s":"EIVC 78","x":394,"y":9.55},{"s":"EIVC 78","x":400,"y":10},
{"s":"EIVC 78","x":401.3,"y":10.09},{"s":"EIVC 78","x":407.3,"y":9.55},{"s":"EIVC 78","x":413.1,"y":9},{"s":"EIVC 78","x":421.1,"y":8},{"s":"EIVC 78","x":429.1,"y":7},{"s":"EIVC 78","x":436.9,"y":6},{"s":"EIVC 78","x":444.6,"y":5},{"s":"EIVC 78","x":451.6,"y":4},{"s":"EIVC 78","x":458.1,"y":3},{"s":"EIVC 78","x":464.4,"y":2},{"s":"EIVC 78","x":470.3,"y":1},{"s":"EIVC 78","x":472.6,"y":0.75},{"s":"EIVC 78","x":475.1,"y":0.55},{"s":"EIVC 78","x":477.6,"y":0.45},{"s":"EIVC 78","x":484.6,"y":0.38},{"s":"EIVC 78","x":535.6,"y":0}
]},
"mark": {"type": "line", "interpolate": "monotone", "clip": true},
"encoding": {
  "x": {"field": "x", "type": "quantitative",
    "scale": {"domain": [250, 670.5], "nice": false, "zero": false},
    "axis": {"values": [250,260,270,280,290,300,310,320,330,340,350,360,370,380,390,400,410,420,430,440,450,460,470,480,490,500,510,520,530,540,550,560,570,580,590,600,610,620,630,640,650,660,670],
      "labelExpr": "datum.value % 50 === 0 ? format(datum.value, 'd') : ''",
      "labelOverlap": false, "labelBound": false, "labelFlush": false,
      "labelFont": "Lato", "labelFontSize": 19, "labelFontWeight": "bold", "labelColor": "#000000", "labelPadding": 24,
      "grid": true, "gridColor": "#D9D9D9", "gridWidth": 1,
      "gridOpacity": {"condition": {"test": "datum.value % 50 === 0", "value": 1}, "value": 0},
      "tickSize": -6, "tickColor": "#595959", "tickWidth": 1,
      "domainColor": "#595959", "domainWidth": 1,
      "title": "Crank Angle (Deg)", "titleFont": "Lato", "titleFontSize": 26, "titleFontWeight": "bold", "titleColor": "#000000", "titlePadding": 3}},
  "y": {"field": "y", "type": "quantitative",
    "scale": {"domain": [0, 11], "nice": false},
    "axis": {"values": [0,0.2,0.4,0.6,0.8,1,1.2,1.4,1.6,1.8,2,2.2,2.4,2.6,2.8,3,3.2,3.4,3.6,3.8,4,4.2,4.4,4.6,4.8,5,5.2,5.4,5.6,5.8,6,6.2,6.4,6.6,6.8,7,7.2,7.4,7.6,7.8,8,8.2,8.4,8.6,8.8,9,9.2,9.4,9.6,9.8,10,10.2,10.4,10.6,10.8,11],
      "labelExpr": "abs(datum.value - round(datum.value)) < 0.001 ? format(round(datum.value), 'd') : ''",
      "labelOverlap": false, "labelBound": false, "labelFlush": false,
      "labelFont": "Lato", "labelFontSize": 19, "labelFontWeight": "bold", "labelColor": "#000000", "labelPadding": 25,
      "grid": true, "gridColor": "#D9D9D9", "gridWidth": 1,
      "gridOpacity": {"condition": {"test": "abs(datum.value - round(datum.value)) < 0.001", "value": 1}, "value": 0},
      "tickSize": -4, "tickColor": "#BFBFBF", "tickWidth": 1,
      "domainColor": "#D9D9D9", "domainWidth": 1,
      "title": "Intake Valve Lifts (mm)", "titleFont": "Lato", "titleFontSize": 26, "titleFontWeight": "bold", "titleColor": "#000000", "titlePadding": 16, "titleY": 183}},
  "color": {"field": "s", "type": "nominal",
    "scale": {"domain": ["Baseline","EIVC 30","EIVC 36","EIVC 40","EIVC 44","EIVC 50","EIVC 55","EIVC 62","EIVC 68","EIVC 78","LIVC 7","LIVC 13","LIVC 19","LIVC 25","LIVC 31","LIVC 37","LIVC 43","LIVC 49","LIVC 55","LIVC 61"],
      "range": ["#000000","#7F6000","#FF66EE","#0000CC","#00807A","#FFFF00","#7030A0","#FFBA00","#00B0F0","#FF1A1A","#7F6000","#FF66EE","#0000CC","#00807A","#FFFF00","#7030A0","#FFBA00","#00B0F0","#FF5050","#A6A6A6"]},
    "legend": {"orient": "none", "legendX": 31, "legendY": 4, "columns": 2, "columnPadding": 416, "rowPadding": 3.7,
      "symbolType": "M-4,0H4", "symbolSize": 100, "labelFont": "Lato", "labelFontSize": 17, "labelFontWeight": "bold", "labelColor": "#000000",
      "labelOffset": 15, "title": null, "padding": 0}},
  "strokeDash": {"field": "s", "type": "nominal",
    "scale": {"domain": ["Baseline","EIVC 30","EIVC 36","EIVC 40","EIVC 44","EIVC 50","EIVC 55","EIVC 62","EIVC 68","EIVC 78","LIVC 7","LIVC 13","LIVC 19","LIVC 25","LIVC 31","LIVC 37","LIVC 43","LIVC 49","LIVC 55","LIVC 61"],
      "range": [[1,0],[6,3.5],[6,3.5],[6,3.5],[6,3.5],[6,3.5],[6,3.5],[6,3.5],[6,3.5],[6,3.5],[1,0],[1,0],[1,0],[1,0],[1,0],[1,0],[1,0],[1,0],[1,0],[1,0]]}},
  "strokeWidth": {"field": "s", "type": "nominal",
    "scale": {"type": "ordinal", "domain": ["Baseline","EIVC 30","EIVC 36","EIVC 40","EIVC 44","EIVC 50","EIVC 55","EIVC 62","EIVC 68","EIVC 78","LIVC 7","LIVC 13","LIVC 19","LIVC 25","LIVC 31","LIVC 37","LIVC 43","LIVC 49","LIVC 55","LIVC 61"],
      "range": [5,2.75,2.75,2.75,2.75,2.75,2.75,2.75,2.75,2.75,2.75,2.75,2.75,2.75,2.75,2.75,2.75,2.75,2.75,2.75]}}
}
}
